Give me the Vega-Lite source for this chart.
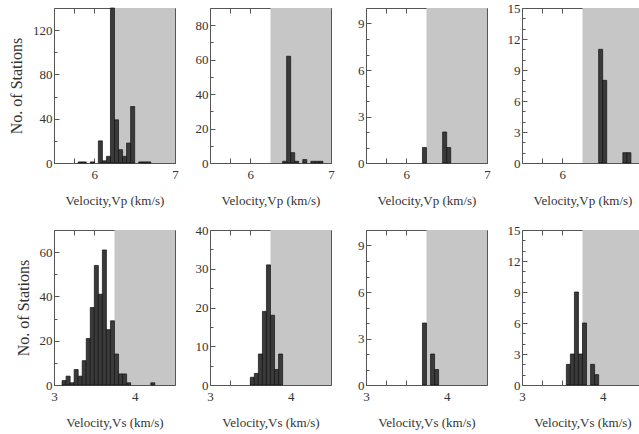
{
  "$schema": "https://vega.github.io/schema/vega-lite/v6.json",
  "padding": {"left": 8, "top": 1, "right": 0, "bottom": 0},
  "bounds": "flush",
  "columns": 4,
  "spacing": {"row": 67, "column": 35},
  "datasets": {
    "vp1": [
      {"lo": 5.80, "hi": 5.85, "n": 1}, {"lo": 5.85, "hi": 5.90, "n": 1}, {"lo": 5.95, "hi": 6.00, "n": 1},
      {"lo": 6.05, "hi": 6.10, "n": 20}, {"lo": 6.10, "hi": 6.15, "n": 2}, {"lo": 6.15, "hi": 6.20, "n": 6},
      {"lo": 6.20, "hi": 6.25, "n": 140}, {"lo": 6.25, "hi": 6.30, "n": 39}, {"lo": 6.30, "hi": 6.35, "n": 12},
      {"lo": 6.35, "hi": 6.40, "n": 6}, {"lo": 6.40, "hi": 6.45, "n": 18}, {"lo": 6.45, "hi": 6.50, "n": 51},
      {"lo": 6.55, "hi": 6.60, "n": 1}, {"lo": 6.60, "hi": 6.65, "n": 1}, {"lo": 6.65, "hi": 6.70, "n": 1}
    ],
    "vp2": [
      {"lo": 6.40, "hi": 6.45, "n": 1}, {"lo": 6.45, "hi": 6.50, "n": 62}, {"lo": 6.50, "hi": 6.55, "n": 6},
      {"lo": 6.55, "hi": 6.60, "n": 1}, {"lo": 6.65, "hi": 6.70, "n": 2}, {"lo": 6.75, "hi": 6.80, "n": 1},
      {"lo": 6.80, "hi": 6.85, "n": 1}, {"lo": 6.85, "hi": 6.90, "n": 1}
    ],
    "vp3": [
      {"lo": 6.20, "hi": 6.25, "n": 1}, {"lo": 6.45, "hi": 6.50, "n": 2}, {"lo": 6.50, "hi": 6.55, "n": 1}
    ],
    "vp4": [
      {"lo": 6.45, "hi": 6.50, "n": 11}, {"lo": 6.50, "hi": 6.55, "n": 8}, {"lo": 6.75, "hi": 6.80, "n": 1},
      {"lo": 6.80, "hi": 6.85, "n": 1}
    ],
    "vs1": [
      {"lo": 3.10, "hi": 3.15, "n": 2}, {"lo": 3.15, "hi": 3.20, "n": 4}, {"lo": 3.20, "hi": 3.25, "n": 1},
      {"lo": 3.25, "hi": 3.30, "n": 7}, {"lo": 3.30, "hi": 3.35, "n": 4}, {"lo": 3.35, "hi": 3.40, "n": 11},
      {"lo": 3.40, "hi": 3.45, "n": 21}, {"lo": 3.45, "hi": 3.50, "n": 35}, {"lo": 3.50, "hi": 3.55, "n": 54},
      {"lo": 3.55, "hi": 3.60, "n": 41}, {"lo": 3.60, "hi": 3.65, "n": 61}, {"lo": 3.65, "hi": 3.70, "n": 25},
      {"lo": 3.70, "hi": 3.75, "n": 29}, {"lo": 3.75, "hi": 3.80, "n": 14}, {"lo": 3.80, "hi": 3.85, "n": 5},
      {"lo": 3.85, "hi": 3.90, "n": 5}, {"lo": 3.90, "hi": 3.95, "n": 1}, {"lo": 4.20, "hi": 4.25, "n": 1}
    ],
    "vs2": [
      {"lo": 3.50, "hi": 3.55, "n": 2}, {"lo": 3.55, "hi": 3.60, "n": 3}, {"lo": 3.60, "hi": 3.65, "n": 8},
      {"lo": 3.65, "hi": 3.70, "n": 19}, {"lo": 3.70, "hi": 3.75, "n": 31}, {"lo": 3.75, "hi": 3.80, "n": 18},
      {"lo": 3.80, "hi": 3.85, "n": 4}, {"lo": 3.85, "hi": 3.90, "n": 8}
    ],
    "vs3": [
      {"lo": 3.70, "hi": 3.75, "n": 4}, {"lo": 3.80, "hi": 3.85, "n": 2}, {"lo": 3.85, "hi": 3.90, "n": 1}
    ],
    "vs4": [
      {"lo": 3.55, "hi": 3.60, "n": 2}, {"lo": 3.60, "hi": 3.65, "n": 3}, {"lo": 3.65, "hi": 3.70, "n": 9},
      {"lo": 3.70, "hi": 3.75, "n": 3}, {"lo": 3.75, "hi": 3.80, "n": 6}, {"lo": 3.85, "hi": 3.90, "n": 2},
      {"lo": 3.90, "hi": 3.95, "n": 1}
    ],
    "shadeP": [{"lo": 6.25, "hi": 7}],
    "shadeS": [{"lo": 3.75, "hi": 4.5}]
  },
  "concat": [
    {
      "width": 121, "height": 155,
      "layer": [
        {"data": {"name": "shadeP"}, "mark": {"type": "rect", "color": "#c6c6c6"},
         "encoding": {"x": {"field": "lo", "type": "quantitative", "scale": {"domain": [5.5, 7], "nice": false, "zero": false},
           "axis": {"orient": "top", "values": [5.75, 6, 6.25, 6.5, 6.75], "labels": false, "title": null, "domain": false, "tickSize": -5}},
           "x2": {"field": "hi"}}},
        {"data": {"name": "vp1"}, "mark": {"type": "rect", "color": "#3a3a3a", "stroke": "#111", "strokeWidth": 0.7},
         "encoding": {
           "x": {"field": "lo", "type": "quantitative", "scale": {"domain": [5.5, 7], "nice": false, "zero": false},
             "axis": {"orient": "bottom", "values": [5.75, 6, 6.25, 6.5, 6.75, 7], "format": "~g", "labelExpr": "datum.value == 6 || datum.value == 7 ? datum.label : ''", "title": "Velocity,Vp (km/s)", "tickSize": -5, "labelPadding": 10, "titlePadding": 13}},
           "x2": {"field": "hi"},
           "y": {"field": "n", "type": "quantitative", "scale": {"domain": [0, 140], "nice": false},
             "axis": {"orient": "left", "values": [0, 20, 40, 60, 80, 100, 120], "labelExpr": "datum.value % 40 == 0 ? datum.label : ''", "title": "No. of Stations", "titleFontSize": 16, "titlePadding": 8, "labelPadding": 7, "tickSize": {"condition": {"test": "datum.value % 40 == 0", "value": -5}, "value": -3}}}}},
        {"data": {"name": "vp1"}, "mark": {"type": "rect", "opacity": 0},
         "encoding": {
           "x": {"field": "lo", "type": "quantitative", "scale": {"domain": [5.5, 7], "nice": false, "zero": false}, "axis": null},
           "x2": {"field": "hi"},
           "y": {"field": "n", "type": "quantitative", "scale": {"domain": [0, 140], "nice": false},
             "axis": {"orient": "right", "values": [20, 40, 60, 80, 100, 120], "labels": false, "title": null, "domain": false, "tickSize": {"condition": {"test": "datum.value % 40 == 0", "value": -5}, "value": -3}}}}}
      ],
      "resolve": {"axis": {"x": "independent", "y": "independent"}}
    },
    {
      "width": 121, "height": 155,
      "layer": [
        {"data": {"name": "shadeP"}, "mark": {"type": "rect", "color": "#c6c6c6"},
         "encoding": {"x": {"field": "lo", "type": "quantitative", "scale": {"domain": [5.5, 7], "nice": false, "zero": false},
           "axis": {"orient": "top", "values": [5.75, 6, 6.25, 6.5, 6.75], "labels": false, "title": null, "domain": false, "tickSize": -5}},
           "x2": {"field": "hi"}}},
        {"data": {"name": "vp2"}, "mark": {"type": "rect", "color": "#3a3a3a", "stroke": "#111", "strokeWidth": 0.7},
         "encoding": {
           "x": {"field": "lo", "type": "quantitative", "scale": {"domain": [5.5, 7], "nice": false, "zero": false},
             "axis": {"orient": "bottom", "values": [5.75, 6, 6.25, 6.5, 6.75, 7], "format": "~g", "labelExpr": "datum.value == 6 || datum.value == 7 ? datum.label : ''", "title": "Velocity,Vp (km/s)", "tickSize": -5, "labelPadding": 10, "titlePadding": 13}},
           "x2": {"field": "hi"},
           "y": {"field": "n", "type": "quantitative", "scale": {"domain": [0, 90], "nice": false},
             "axis": {"orient": "left", "values": [0, 10, 20, 30, 40, 50, 60, 70, 80], "labelExpr": "datum.value % 20 == 0 ? datum.label : ''", "title": null, "labelPadding": 7, "tickSize": {"condition": {"test": "datum.value % 20 == 0", "value": -5}, "value": -3}}}}},
        {"data": {"name": "vp2"}, "mark": {"type": "rect", "opacity": 0},
         "encoding": {
           "x": {"field": "lo", "type": "quantitative", "scale": {"domain": [5.5, 7], "nice": false, "zero": false}, "axis": null},
           "x2": {"field": "hi"},
           "y": {"field": "n", "type": "quantitative", "scale": {"domain": [0, 90], "nice": false},
             "axis": {"orient": "right", "values": [10, 20, 30, 40, 50, 60, 70, 80], "labels": false, "title": null, "domain": false, "tickSize": {"condition": {"test": "datum.value % 20 == 0", "value": -5}, "value": -3}}}}}
      ],
      "resolve": {"axis": {"x": "independent", "y": "independent"}}
    },
    {
      "width": 121, "height": 155,
      "layer": [
        {"data": {"name": "shadeP"}, "mark": {"type": "rect", "color": "#c6c6c6"},
         "encoding": {"x": {"field": "lo", "type": "quantitative", "scale": {"domain": [5.5, 7], "nice": false, "zero": false},
           "axis": {"orient": "top", "values": [5.75, 6, 6.25, 6.5, 6.75], "labels": false, "title": null, "domain": false, "tickSize": -5}},
           "x2": {"field": "hi"}}},
        {"data": {"name": "vp3"}, "mark": {"type": "rect", "color": "#3a3a3a", "stroke": "#111", "strokeWidth": 0.7},
         "encoding": {
           "x": {"field": "lo", "type": "quantitative", "scale": {"domain": [5.5, 7], "nice": false, "zero": false},
             "axis": {"orient": "bottom", "values": [5.75, 6, 6.25, 6.5, 6.75, 7], "format": "~g", "labelExpr": "datum.value == 6 || datum.value == 7 ? datum.label : ''", "title": "Velocity,Vp (km/s)", "tickSize": -5, "labelPadding": 10, "titlePadding": 13}},
           "x2": {"field": "hi"},
           "y": {"field": "n", "type": "quantitative", "scale": {"domain": [0, 10], "nice": false},
             "axis": {"orient": "left", "values": [0, 1, 2, 3, 4, 5, 6, 7, 8, 9], "labelExpr": "datum.value % 3 == 0 ? datum.label : ''", "title": null, "labelPadding": 7, "tickSize": {"condition": {"test": "datum.value % 3 == 0", "value": -5}, "value": -3}}}}},
        {"data": {"name": "vp3"}, "mark": {"type": "rect", "opacity": 0},
         "encoding": {
           "x": {"field": "lo", "type": "quantitative", "scale": {"domain": [5.5, 7], "nice": false, "zero": false}, "axis": null},
           "x2": {"field": "hi"},
           "y": {"field": "n", "type": "quantitative", "scale": {"domain": [0, 10], "nice": false},
             "axis": {"orient": "right", "values": [1, 2, 3, 4, 5, 6, 7, 8, 9], "labels": false, "title": null, "domain": false, "tickSize": {"condition": {"test": "datum.value % 3 == 0", "value": -5}, "value": -3}}}}}
      ],
      "resolve": {"axis": {"x": "independent", "y": "independent"}}
    },
    {
      "width": 121, "height": 155,
      "layer": [
        {"data": {"name": "shadeP"}, "mark": {"type": "rect", "color": "#c6c6c6"},
         "encoding": {"x": {"field": "lo", "type": "quantitative", "scale": {"domain": [5.5, 7], "nice": false, "zero": false},
           "axis": {"orient": "top", "values": [5.75, 6, 6.25, 6.5, 6.75], "labels": false, "title": null, "domain": false, "tickSize": -5}},
           "x2": {"field": "hi"}}},
        {"data": {"name": "vp4"}, "mark": {"type": "rect", "color": "#3a3a3a", "stroke": "#111", "strokeWidth": 0.7},
         "encoding": {
           "x": {"field": "lo", "type": "quantitative", "scale": {"domain": [5.5, 7], "nice": false, "zero": false},
             "axis": {"orient": "bottom", "values": [5.75, 6, 6.25, 6.5, 6.75, 7], "format": "~g", "labelExpr": "datum.value == 6 || datum.value == 7 ? datum.label : ''", "title": "Velocity,Vp (km/s)", "tickSize": -5, "labelPadding": 10, "titlePadding": 13}},
           "x2": {"field": "hi"},
           "y": {"field": "n", "type": "quantitative", "scale": {"domain": [0, 15], "nice": false},
             "axis": {"orient": "left", "values": [0, 1, 2, 3, 4, 5, 6, 7, 8, 9, 10, 11, 12, 13, 14, 15], "labelExpr": "datum.value % 3 == 0 ? datum.label : ''", "title": null, "labelPadding": 7, "tickSize": {"condition": {"test": "datum.value % 3 == 0", "value": -5}, "value": -3}}}}},
        {"data": {"name": "vp4"}, "mark": {"type": "rect", "opacity": 0},
         "encoding": {
           "x": {"field": "lo", "type": "quantitative", "scale": {"domain": [5.5, 7], "nice": false, "zero": false}, "axis": null},
           "x2": {"field": "hi"},
           "y": {"field": "n", "type": "quantitative", "scale": {"domain": [0, 15], "nice": false},
             "axis": {"orient": "right", "values": [1, 2, 3, 4, 5, 6, 7, 8, 9, 10, 11, 12, 13, 14], "labels": false, "title": null, "domain": false, "tickSize": {"condition": {"test": "datum.value % 3 == 0", "value": -5}, "value": -3}}}}}
      ],
      "resolve": {"axis": {"x": "independent", "y": "independent"}}
    },
    {
      "width": 121, "height": 155,
      "layer": [
        {"data": {"name": "shadeS"}, "mark": {"type": "rect", "color": "#c6c6c6"},
         "encoding": {"x": {"field": "lo", "type": "quantitative", "scale": {"domain": [3, 4.5], "nice": false, "zero": false},
           "axis": {"orient": "top", "values": [3.25, 3.5, 3.75, 4, 4.25], "labels": false, "title": null, "domain": false, "tickSize": -5}},
           "x2": {"field": "hi"}}},
        {"data": {"name": "vs1"}, "mark": {"type": "rect", "color": "#3a3a3a", "stroke": "#111", "strokeWidth": 0.7},
         "encoding": {
           "x": {"field": "lo", "type": "quantitative", "scale": {"domain": [3, 4.5], "nice": false, "zero": false},
             "axis": {"orient": "bottom", "values": [3, 3.25, 3.5, 3.75, 4, 4.25], "format": "~g", "labelExpr": "datum.value == 3 || datum.value == 4 ? datum.label : ''", "title": "Velocity,Vs (km/s)", "tickSize": -5, "labelPadding": 10, "titlePadding": 13}},
           "x2": {"field": "hi"},
           "y": {"field": "n", "type": "quantitative", "scale": {"domain": [0, 70], "nice": false},
             "axis": {"orient": "left", "values": [0, 10, 20, 30, 40, 50, 60], "labelExpr": "datum.value % 20 == 0 ? datum.label : ''", "title": "No. of Stations", "titleFontSize": 16, "titlePadding": 8, "labelPadding": 7, "tickSize": {"condition": {"test": "datum.value % 20 == 0", "value": -5}, "value": -3}}}}},
        {"data": {"name": "vs1"}, "mark": {"type": "rect", "opacity": 0},
         "encoding": {
           "x": {"field": "lo", "type": "quantitative", "scale": {"domain": [3, 4.5], "nice": false, "zero": false}, "axis": null},
           "x2": {"field": "hi"},
           "y": {"field": "n", "type": "quantitative", "scale": {"domain": [0, 70], "nice": false},
             "axis": {"orient": "right", "values": [10, 20, 30, 40, 50, 60], "labels": false, "title": null, "domain": false, "tickSize": {"condition": {"test": "datum.value % 20 == 0", "value": -5}, "value": -3}}}}}
      ],
      "resolve": {"axis": {"x": "independent", "y": "independent"}}
    },
    {
      "width": 121, "height": 155,
      "layer": [
        {"data": {"name": "shadeS"}, "mark": {"type": "rect", "color": "#c6c6c6"},
         "encoding": {"x": {"field": "lo", "type": "quantitative", "scale": {"domain": [3, 4.5], "nice": false, "zero": false},
           "axis": {"orient": "top", "values": [3.25, 3.5, 3.75, 4, 4.25], "labels": false, "title": null, "domain": false, "tickSize": -5}},
           "x2": {"field": "hi"}}},
        {"data": {"name": "vs2"}, "mark": {"type": "rect", "color": "#3a3a3a", "stroke": "#111", "strokeWidth": 0.7},
         "encoding": {
           "x": {"field": "lo", "type": "quantitative", "scale": {"domain": [3, 4.5], "nice": false, "zero": false},
             "axis": {"orient": "bottom", "values": [3, 3.25, 3.5, 3.75, 4, 4.25], "format": "~g", "labelExpr": "datum.value == 3 || datum.value == 4 ? datum.label : ''", "title": "Velocity,Vs (km/s)", "tickSize": -5, "labelPadding": 10, "titlePadding": 13}},
           "x2": {"field": "hi"},
           "y": {"field": "n", "type": "quantitative", "scale": {"domain": [0, 40], "nice": false},
             "axis": {"orient": "left", "values": [0, 5, 10, 15, 20, 25, 30, 35, 40], "labelExpr": "datum.value % 10 == 0 ? datum.label : ''", "title": null, "labelPadding": 7, "tickSize": {"condition": {"test": "datum.value % 10 == 0", "value": -5}, "value": -3}}}}},
        {"data": {"name": "vs2"}, "mark": {"type": "rect", "opacity": 0},
         "encoding": {
           "x": {"field": "lo", "type": "quantitative", "scale": {"domain": [3, 4.5], "nice": false, "zero": false}, "axis": null},
           "x2": {"field": "hi"},
           "y": {"field": "n", "type": "quantitative", "scale": {"domain": [0, 40], "nice": false},
             "axis": {"orient": "right", "values": [5, 10, 15, 20, 25, 30, 35], "labels": false, "title": null, "domain": false, "tickSize": {"condition": {"test": "datum.value % 10 == 0", "value": -5}, "value": -3}}}}}
      ],
      "resolve": {"axis": {"x": "independent", "y": "independent"}}
    },
    {
      "width": 121, "height": 155,
      "layer": [
        {"data": {"name": "shadeS"}, "mark": {"type": "rect", "color": "#c6c6c6"},
         "encoding": {"x": {"field": "lo", "type": "quantitative", "scale": {"domain": [3, 4.5], "nice": false, "zero": false},
           "axis": {"orient": "top", "values": [3.25, 3.5, 3.75, 4, 4.25], "labels": false, "title": null, "domain": false, "tickSize": -5}},
           "x2": {"field": "hi"}}},
        {"data": {"name": "vs3"}, "mark": {"type": "rect", "color": "#3a3a3a", "stroke": "#111", "strokeWidth": 0.7},
         "encoding": {
           "x": {"field": "lo", "type": "quantitative", "scale": {"domain": [3, 4.5], "nice": false, "zero": false},
             "axis": {"orient": "bottom", "values": [3, 3.25, 3.5, 3.75, 4, 4.25], "format": "~g", "labelExpr": "datum.value == 3 || datum.value == 4 ? datum.label : ''", "title": "Velocity,Vs (km/s)", "tickSize": -5, "labelPadding": 10, "titlePadding": 13}},
           "x2": {"field": "hi"},
           "y": {"field": "n", "type": "quantitative", "scale": {"domain": [0, 10], "nice": false},
             "axis": {"orient": "left", "values": [0, 1, 2, 3, 4, 5, 6, 7, 8, 9], "labelExpr": "datum.value % 3 == 0 ? datum.label : ''", "title": null, "labelPadding": 7, "tickSize": {"condition": {"test": "datum.value % 3 == 0", "value": -5}, "value": -3}}}}},
        {"data": {"name": "vs3"}, "mark": {"type": "rect", "opacity": 0},
         "encoding": {
           "x": {"field": "lo", "type": "quantitative", "scale": {"domain": [3, 4.5], "nice": false, "zero": false}, "axis": null},
           "x2": {"field": "hi"},
           "y": {"field": "n", "type": "quantitative", "scale": {"domain": [0, 10], "nice": false},
             "axis": {"orient": "right", "values": [1, 2, 3, 4, 5, 6, 7, 8, 9], "labels": false, "title": null, "domain": false, "tickSize": {"condition": {"test": "datum.value % 3 == 0", "value": -5}, "value": -3}}}}}
      ],
      "resolve": {"axis": {"x": "independent", "y": "independent"}}
    },
    {
      "width": 121, "height": 155,
      "layer": [
        {"data": {"name": "shadeS"}, "mark": {"type": "rect", "color": "#c6c6c6"},
         "encoding": {"x": {"field": "lo", "type": "quantitative", "scale": {"domain": [3, 4.5], "nice": false, "zero": false},
           "axis": {"orient": "top", "values": [3.25, 3.5, 3.75, 4, 4.25], "labels": false, "title": null, "domain": false, "tickSize": -5}},
           "x2": {"field": "hi"}}},
        {"data": {"name": "vs4"}, "mark": {"type": "rect", "color": "#3a3a3a", "stroke": "#111", "strokeWidth": 0.7},
         "encoding": {
           "x": {"field": "lo", "type": "quantitative", "scale": {"domain": [3, 4.5], "nice": false, "zero": false},
             "axis": {"orient": "bottom", "values": [3, 3.25, 3.5, 3.75, 4, 4.25], "format": "~g", "labelExpr": "datum.value == 3 || datum.value == 4 ? datum.label : ''", "title": "Velocity,Vs (km/s)", "tickSize": -5, "labelPadding": 10, "titlePadding": 13}},
           "x2": {"field": "hi"},
           "y": {"field": "n", "type": "quantitative", "scale": {"domain": [0, 15], "nice": false},
             "axis": {"orient": "left", "values": [0, 1, 2, 3, 4, 5, 6, 7, 8, 9, 10, 11, 12, 13, 14, 15], "labelExpr": "datum.value % 3 == 0 ? datum.label : ''", "title": null, "labelPadding": 7, "tickSize": {"condition": {"test": "datum.value % 3 == 0", "value": -5}, "value": -3}}}}},
        {"data": {"name": "vs4"}, "mark": {"type": "rect", "opacity": 0},
         "encoding": {
           "x": {"field": "lo", "type": "quantitative", "scale": {"domain": [3, 4.5], "nice": false, "zero": false}, "axis": null},
           "x2": {"field": "hi"},
           "y": {"field": "n", "type": "quantitative", "scale": {"domain": [0, 15], "nice": false},
             "axis": {"orient": "right", "values": [1, 2, 3, 4, 5, 6, 7, 8, 9, 10, 11, 12, 13, 14], "labels": false, "title": null, "domain": false, "tickSize": {"condition": {"test": "datum.value % 3 == 0", "value": -5}, "value": -3}}}}}
      ],
      "resolve": {"axis": {"x": "independent", "y": "independent"}}
    }
  ],
  "config": {
    "font": "Times New Roman, Liberation Serif, serif",
    "view": {"stroke": "#555", "strokeWidth": 1},
    "axis": {
      "grid": false,
      "labelFont": "Times New Roman, Liberation Serif, serif", "labelFontSize": 13, "labelColor": "#333",
      "titleFont": "Times New Roman, Liberation Serif, serif", "titleFontSize": 13, "titleFontWeight": "normal", "titleColor": "#333",
      "domainColor": "#555", "tickColor": "#555",
      "labelOverlap": false, "labelFlush": false
    }
  }
}
